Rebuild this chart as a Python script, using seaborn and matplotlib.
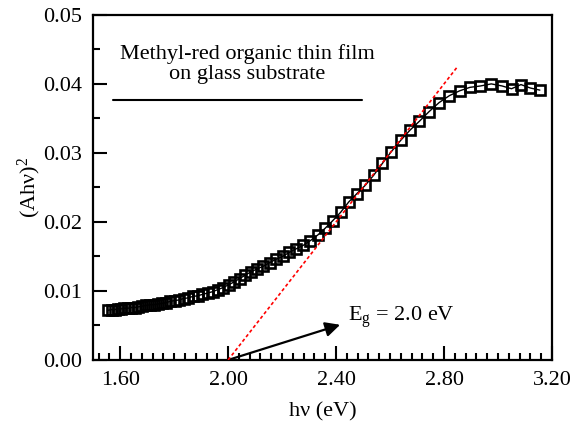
import matplotlib
matplotlib.use("Agg")
import matplotlib.pyplot as plt
from matplotlib.ticker import MultipleLocator, FormatStrFormatter
import pandas as pd
import seaborn as sns

# photon energy (eV) and (A h nu)^2
hv = [1.556, 1.568, 1.580, 1.592, 1.604, 1.616, 1.629, 1.642, 1.655, 1.668,
      1.682, 1.696, 1.710, 1.725, 1.740, 1.755, 1.770, 1.786, 1.802, 1.818,
      1.835, 1.852, 1.869, 1.887, 1.905, 1.924, 1.943, 1.962, 1.982, 2.002,
      2.022, 2.043, 2.064, 2.086, 2.108, 2.131, 2.154, 2.178, 2.202, 2.227,
      2.252, 2.278, 2.305, 2.332, 2.360, 2.388, 2.417, 2.447, 2.477, 2.508,
      2.540, 2.572, 2.605, 2.639, 2.674, 2.709, 2.745, 2.782, 2.820, 2.858,
      2.896, 2.935, 2.975, 3.015, 3.050, 3.085, 3.120, 3.155]
ahv2 = [0.0072, 0.0073, 0.0073, 0.0074, 0.0074, 0.0075, 0.0075, 0.0076, 0.0076, 0.0077,
        0.0078, 0.0079, 0.0080, 0.0080, 0.0081, 0.0082, 0.0083, 0.0085, 0.0086, 0.0087,
        0.0089, 0.0090, 0.0092, 0.0093, 0.0095, 0.0097, 0.0099, 0.0102, 0.0105, 0.0109,
        0.0113, 0.0118, 0.0123, 0.0128, 0.0132, 0.0136, 0.0141, 0.0146, 0.0150, 0.0156,
        0.0161, 0.0166, 0.0173, 0.0181, 0.0191, 0.0202, 0.0214, 0.0229, 0.0241, 0.0253,
        0.0268, 0.0285, 0.0302, 0.0318, 0.0333, 0.0346, 0.0360, 0.0373, 0.0383, 0.0390,
        0.0395, 0.0397, 0.0400, 0.0397, 0.0393, 0.0399, 0.0394, 0.0391]

# linear fit extrapolated to the energy axis
fit_hv = [2.0, 2.85]
fit_y = [0.0, 0.0425]

band_gap = 2.0

df = pd.DataFrame({'hv': hv, 'ahv2': ahv2})
df_fit = pd.DataFrame({'hv': fit_hv, 'y': fit_y})

sns.set_theme(style='ticks')
plt.rcParams['font.family'] = ['Liberation Serif', 'DejaVu Serif']
plt.rcParams['mathtext.fontset'] = 'custom'
plt.rcParams['mathtext.rm'] = 'Liberation Serif'
plt.rcParams['mathtext.it'] = 'Liberation Serif:italic'
plt.rcParams['text.color'] = 'black'
plt.rcParams['axes.labelcolor'] = 'black'
plt.rcParams['xtick.color'] = 'black'
plt.rcParams['ytick.color'] = 'black'

fig, ax = plt.subplots(figsize=(5.75, 4.25), dpi=100)
fig.subplots_adjust(left=0.162, right=0.96, bottom=0.153, top=0.965)

sns.lineplot(data=df, x='hv', y='ahv2', ax=ax, color='black', lw=1,
             marker='s', markersize=7.5, markerfacecolor='none',
             markeredgecolor='black', markeredgewidth=1.9, sort=False)
sns.lineplot(data=df_fit, x='hv', y='y', ax=ax, color='red', lw=1.2,
             linestyle=(0, (2, 1.5)), zorder=5)

# sample label with underline
ax.text(2.07, 0.0429, 'Methyl-red organic thin film\non glass substrate',
        ha='center', va='center', fontsize=16, linespacing=1.1)
ax.plot([1.574, 2.496], [0.0377, 0.0377], color='black', lw=1.5)

# band gap arrow
ax.annotate('', xy=(2.415, 0.0051), xytext=(band_gap, 0.0),
            arrowprops=dict(arrowstyle='-|>', mutation_scale=22, lw=1.6,
                            color='black', shrinkA=0, shrinkB=0))
ax.text(2.446, 0.0056, r'E$_{\mathrm{g}}$ = %.1f eV' % band_gap,
        fontsize=16, va='baseline', ha='left')

ax.set_xlim(1.5, 3.2)
ax.set_ylim(0, 0.05)
ax.xaxis.set_major_locator(MultipleLocator(0.4))
ax.xaxis.set_minor_locator(MultipleLocator(0.04))
ax.yaxis.set_major_locator(MultipleLocator(0.01))
ax.yaxis.set_minor_locator(MultipleLocator(0.005))
ax.xaxis.set_major_formatter(FormatStrFormatter('%.2f'))
ax.yaxis.set_major_formatter(FormatStrFormatter('%.2f'))
ax.tick_params(which='both', direction='in', width=1.5, labelsize=16)
ax.tick_params(which='major', length=10, pad=8)
ax.tick_params(which='minor', length=5)
for sp in ax.spines.values():
    sp.set_linewidth(1.6)
    sp.set_color('black')

ax.set_xlabel('hν (eV)', fontsize=16, labelpad=9)
ax.set_ylabel('(Ahν)$^2$', fontsize=16, labelpad=0)

fig.savefig('out.png', dpi=100)
